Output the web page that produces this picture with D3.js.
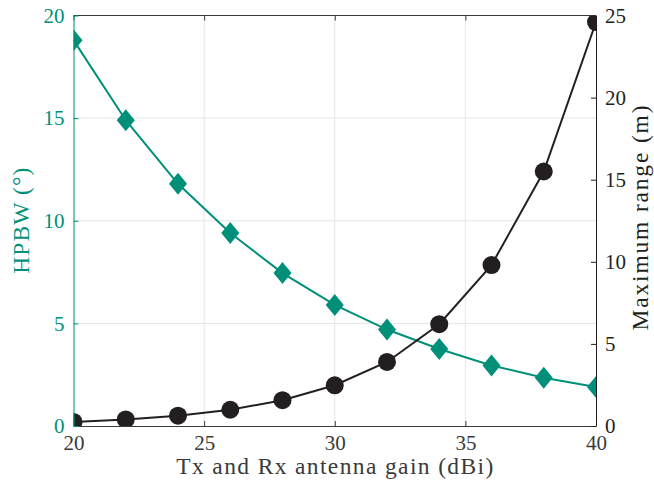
<!DOCTYPE html>
<meta charset="utf-8">
<head>
  <title>HPBW and range vs gain</title>
</head>

<style>
body { margin: 0; background: #fff; }
text { font-family: "Liberation Serif", "DejaVu Serif", serif; }
</style>

<body>
  <div id="content"></div>

  <script src="https://cdnjs.cloudflare.com/ajax/libs/d3/7.8.5/d3.min.js"></script>

  <script>
// values
var gain = [20, 22, 24, 26, 28, 30, 32, 34, 36, 38, 40];
var hpbw = [18.8, 14.9, 11.8, 9.4, 7.45, 5.9, 4.7, 3.75, 2.95, 2.35, 1.9];
var range = [0.25, 0.4, 0.63, 0.99, 1.57, 2.48, 3.9, 6.2, 9.8, 15.5, 24.6];
var xTicks = [20, 25, 30, 35, 40];
var leftTicks = [0, 5, 10, 15, 20];
var rightTicks = [0, 5, 10, 15, 20, 25];

var teal = '#00907a';
var dark = '#231f20';
var gray = '#3a3a3a';

var W = 654, H = 488;
var m = {left: 73.5, right: 58, top: 15.5, bottom: 62};

var svg = d3.select('#content').append('svg')
  .attr('width', W)
  .attr('height', H);

var x = d3.scaleLinear().domain([20, 40]).range([m.left, W - m.right]);
var yL = d3.scaleLinear().domain([0, 20]).range([H - m.bottom, m.top]);
var yR = d3.scaleLinear().domain([0, 25]).range([H - m.bottom, m.top]);

var x0 = m.left, x1 = W - m.right, y0 = H - m.bottom, y1 = m.top;

// markers get cut at the plot box, as in the original
svg.append('clipPath').attr('id', 'box')
  .append('rect')
  .attr('x', x0).attr('y', y1)
  .attr('width', x1 - x0).attr('height', y0 - y1);

// grid
svg.append('g').selectAll('line').data(xTicks.slice(1, -1)).join('line')
  .attr('x1', d => x(d)).attr('x2', d => x(d))
  .attr('y1', y0).attr('y2', y1)
  .attr('stroke', '#e3e6e6').attr('stroke-width', 1);
svg.append('g').selectAll('line').data(leftTicks.slice(1, -1)).join('line')
  .attr('x1', x0).attr('x2', x1)
  .attr('y1', d => yL(d)).attr('y2', d => yL(d))
  .attr('stroke', '#e3e6e6').attr('stroke-width', 1);

// series
var lineL = d3.line().x((d, i) => x(gain[i])).y(d => yL(d));
var lineR = d3.line().x((d, i) => x(gain[i])).y(d => yR(d));

var plot = svg.append('g').attr('clip-path', 'url(#box)');

plot.append('path').datum(hpbw)
  .attr('d', lineL).attr('fill', 'none')
  .attr('stroke', teal).attr('stroke-width', 2);

plot.append('g').selectAll('path').data(hpbw).join('path')
  .attr('transform', (d, i) => 'translate(' + x(gain[i]) + ',' + yL(d) + ')')
  .attr('d', 'M0,-11L9,0L0,11L-9,0Z')
  .attr('fill', teal);

plot.append('path').datum(range)
  .attr('d', lineR).attr('fill', 'none')
  .attr('stroke', dark).attr('stroke-width', 2);

plot.append('g').selectAll('circle').data(range).join('circle')
  .attr('cx', (d, i) => x(gain[i]))
  .attr('cy', d => yR(d))
  .attr('r', 9)
  .attr('fill', dark);

// top box line
svg.append('line')
  .attr('x1', x0).attr('x2', x1).attr('y1', y1).attr('y2', y1)
  .attr('stroke', gray).attr('stroke-width', 1);

// axes, ticks pointing inward
var xAxis = svg.append('g')
  .attr('transform', 'translate(0,' + y0 + ')')
  .call(d3.axisBottom(x).tickValues(xTicks).tickSizeInner(-5).tickSizeOuter(0).tickPadding(9));
xAxis.select('.domain').attr('stroke', gray);
xAxis.selectAll('.tick line').attr('stroke', gray);
xAxis.selectAll('text').attr('fill', gray).attr('font-size', 21);

var xTop = svg.append('g')
  .attr('transform', 'translate(0,' + y1 + ')')
  .call(d3.axisTop(x).tickValues(xTicks).tickSizeInner(-5).tickSizeOuter(0).tickFormat(''));
xTop.select('.domain').remove();
xTop.selectAll('.tick line').attr('stroke', gray);

var lAxis = svg.append('g')
  .attr('transform', 'translate(' + x0 + ',0)')
  .call(d3.axisLeft(yL).tickValues(leftTicks).tickSizeInner(-5).tickSizeOuter(0).tickPadding(9));
lAxis.select('.domain').attr('stroke', teal);
lAxis.selectAll('.tick line').attr('stroke', teal);
lAxis.selectAll('text').attr('fill', teal).attr('font-size', 21);

var rAxis = svg.append('g')
  .attr('transform', 'translate(' + x1 + ',0)')
  .call(d3.axisRight(yR).tickValues(rightTicks).tickSizeInner(-5).tickSizeOuter(0).tickPadding(9));
rAxis.select('.domain').attr('stroke', dark);
rAxis.selectAll('.tick line').attr('stroke', dark);
rAxis.selectAll('text').attr('fill', dark).attr('font-size', 21);

svg.selectAll('.domain, .tick line').attr('stroke-width', 1);

// labels
svg.append('text')
  .attr('x', (x0 + x1) / 2).attr('y', 474)
  .attr('text-anchor', 'middle')
  .attr('fill', gray).attr('font-size', 23.5)
  .attr('textLength', 317).attr('lengthAdjust', 'spacing')
  .text('Tx and Rx antenna gain (dBi)');

svg.append('text')
  .attr('transform', 'translate(29,' + (y0 + y1) / 2 + ') rotate(-90)')
  .attr('text-anchor', 'middle')
  .attr('fill', teal).attr('font-size', 23.5)
  .attr('textLength', 106).attr('lengthAdjust', 'spacing')
  .text('HPBW (°)');

svg.append('text')
  .attr('transform', 'translate(648,218) rotate(-90)')
  .attr('text-anchor', 'middle')
  .attr('fill', dark).attr('font-size', 23.5)
  .attr('textLength', 225).attr('lengthAdjust', 'spacing')
  .text('Maximum range (m)');
  </script>
</body>
</html>
